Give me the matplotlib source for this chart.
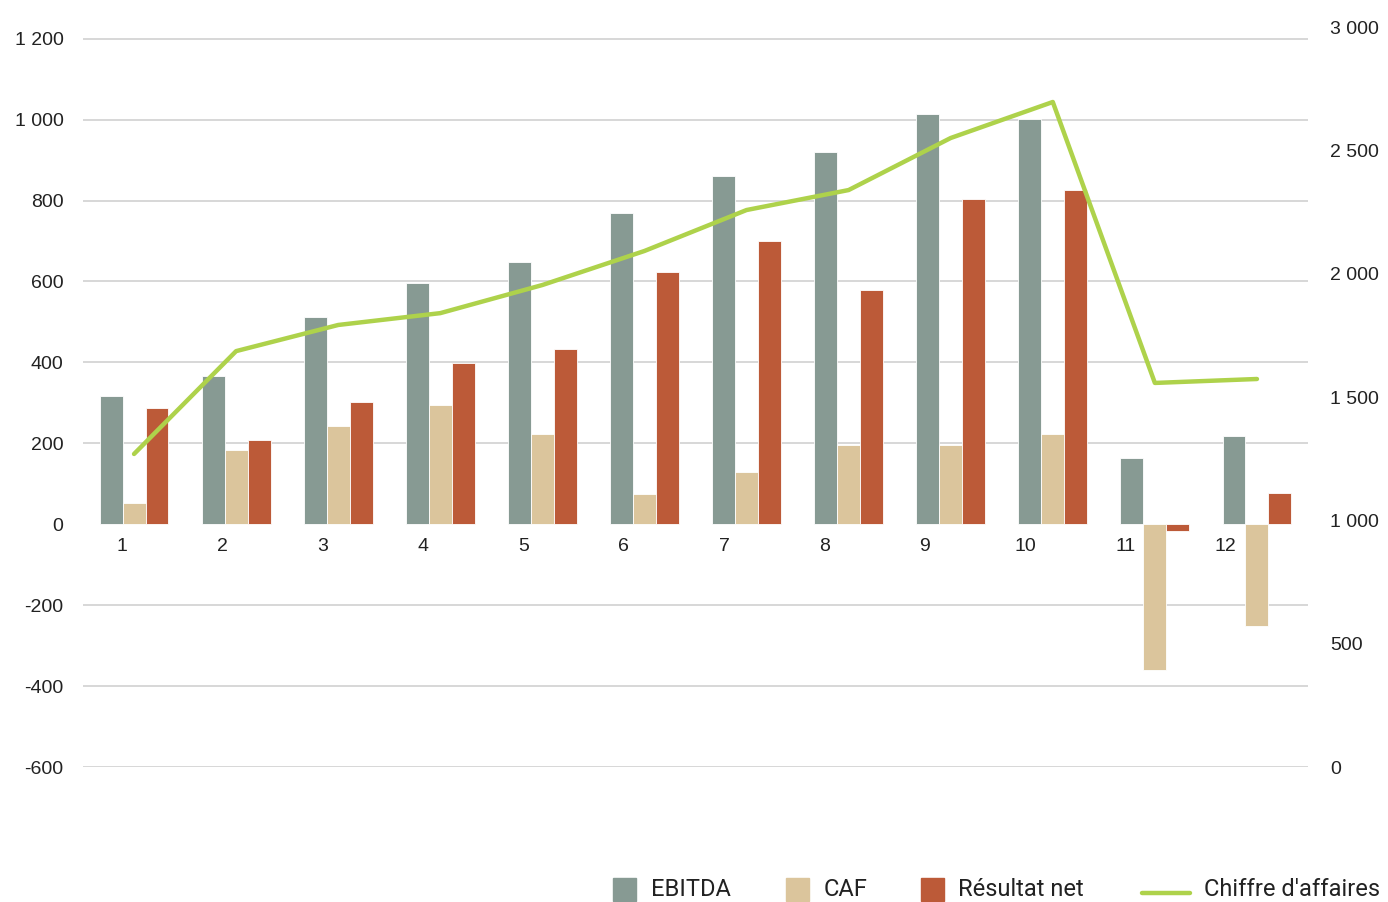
import matplotlib.pyplot as plt
import numpy as np
from matplotlib.patches import Rectangle
from matplotlib.lines import Line2D

plt.rcParams['font.family'] = ['Liberation Sans', 'DejaVu Sans']

categories = ['1', '2', '3', '4', '5', '6', '7', '8', '9', '10', '11', '12']
ebitda = [316, 366, 512, 596, 648, 769, 860, 920, 1014, 1001, 163, 218]
caf = [52, 183, 242, 294, 223, 74, 129, 195, 195, 223, -361, -252]
resultat = [287, 208, 302, 398, 433, 623, 700, 579, 804, 826, -17, 77]
chiffre = [1269, 1686, 1792, 1840, 1954, 2092, 2258, 2339, 2550, 2696, 1557, 1573]

left_ticks = [-600, -400, -200, 0, 200, 400, 600, 800, 1000, 1200]
right_ticks = [0, 500, 1000, 1500, 2000, 2500, 3000]

c_ebitda = '#879a93'
c_caf = '#dbc59c'
c_res = '#bc5a38'
c_line = '#aed24b'
c_text = '#222222'


def fmt(v):
    return f"{v:,}".replace(",", " ")


fig = plt.figure(figsize=(13.88, 9.02), dpi=100)
ax = fig.add_axes([83 / 1388, 1 - 767 / 902, 1225 / 1388, 740 / 902])
ax2 = ax.twinx()

x = np.arange(1, len(categories) + 1)
w = 0.225
for off, vals, col in [(-w, ebitda, c_ebitda), (0, caf, c_caf), (w, resultat, c_res)]:
    ax.bar(x + off, vals, width=w, color=col, edgecolor='white', linewidth=0.6, zorder=2)

ax.set_xlim(0.5, 12.5)
ax.set_ylim(-600, 1229)
ax.set_yticks(left_ticks)
ax.set_yticklabels([fmt(v) for v in left_ticks], fontsize=14, color=c_text)
ax.tick_params(axis='y', length=0, pad=14)
ax.set_xticks([])
for v in left_ticks:
    if v != 0:
        ax.axhline(v, color='#d4d4d4', linewidth=1.3, zorder=1)
for s in ax.spines.values():
    s.set_visible(False)

# category labels sit just under the zero line, slightly left of each group
for i, lab in enumerate(categories):
    ax.annotate(lab, (1 - 0.118 + 0.983 * i, 0), xytext=(0, -10), textcoords='offset points',
                ha='center', va='top', fontsize=14, color=c_text)

ax2.plot(x, chiffre, color=c_line, linewidth=3.2, solid_capstyle='round', zorder=3)
ax2.set_ylim(0, 3000)
ax2.set_yticks(right_ticks)
ax2.set_yticklabels([fmt(v) for v in right_ticks], fontsize=14, color=c_text)
ax2.tick_params(axis='y', length=0, pad=16)
for s in ax2.spines.values():
    s.set_visible(False)

# legend drawn manually at the bottom
W, H = 1388, 902
ly = 1 - 889 / H
items = [(613, 651, c_ebitda, 'EBITDA'), (786, 824, c_caf, 'CAF'), (921, 958, c_res, 'Résultat net')]
for hx, tx, col, lab in items:
    fig.add_artist(Rectangle((hx / W, ly - 11.5 / H), 23 / W, 23 / H,
                             transform=fig.transFigure, color=col))
    fig.text(tx / W, ly, lab, fontsize=17, va='center', ha='left', color=c_text,
             family=['Roboto', 'DejaVu Sans'])
fig.add_artist(Line2D([1142 / W, 1190 / W], [ly - 4 / H, ly - 4 / H], color=c_line,
                      linewidth=3.2, solid_capstyle='round', transform=fig.transFigure))
fig.text(1204 / W, ly, "Chiffre d'affaires", fontsize=17, va='center', ha='left', color=c_text,
         family=['Roboto', 'DejaVu Sans'])

fig.savefig('out.png', dpi=100)
